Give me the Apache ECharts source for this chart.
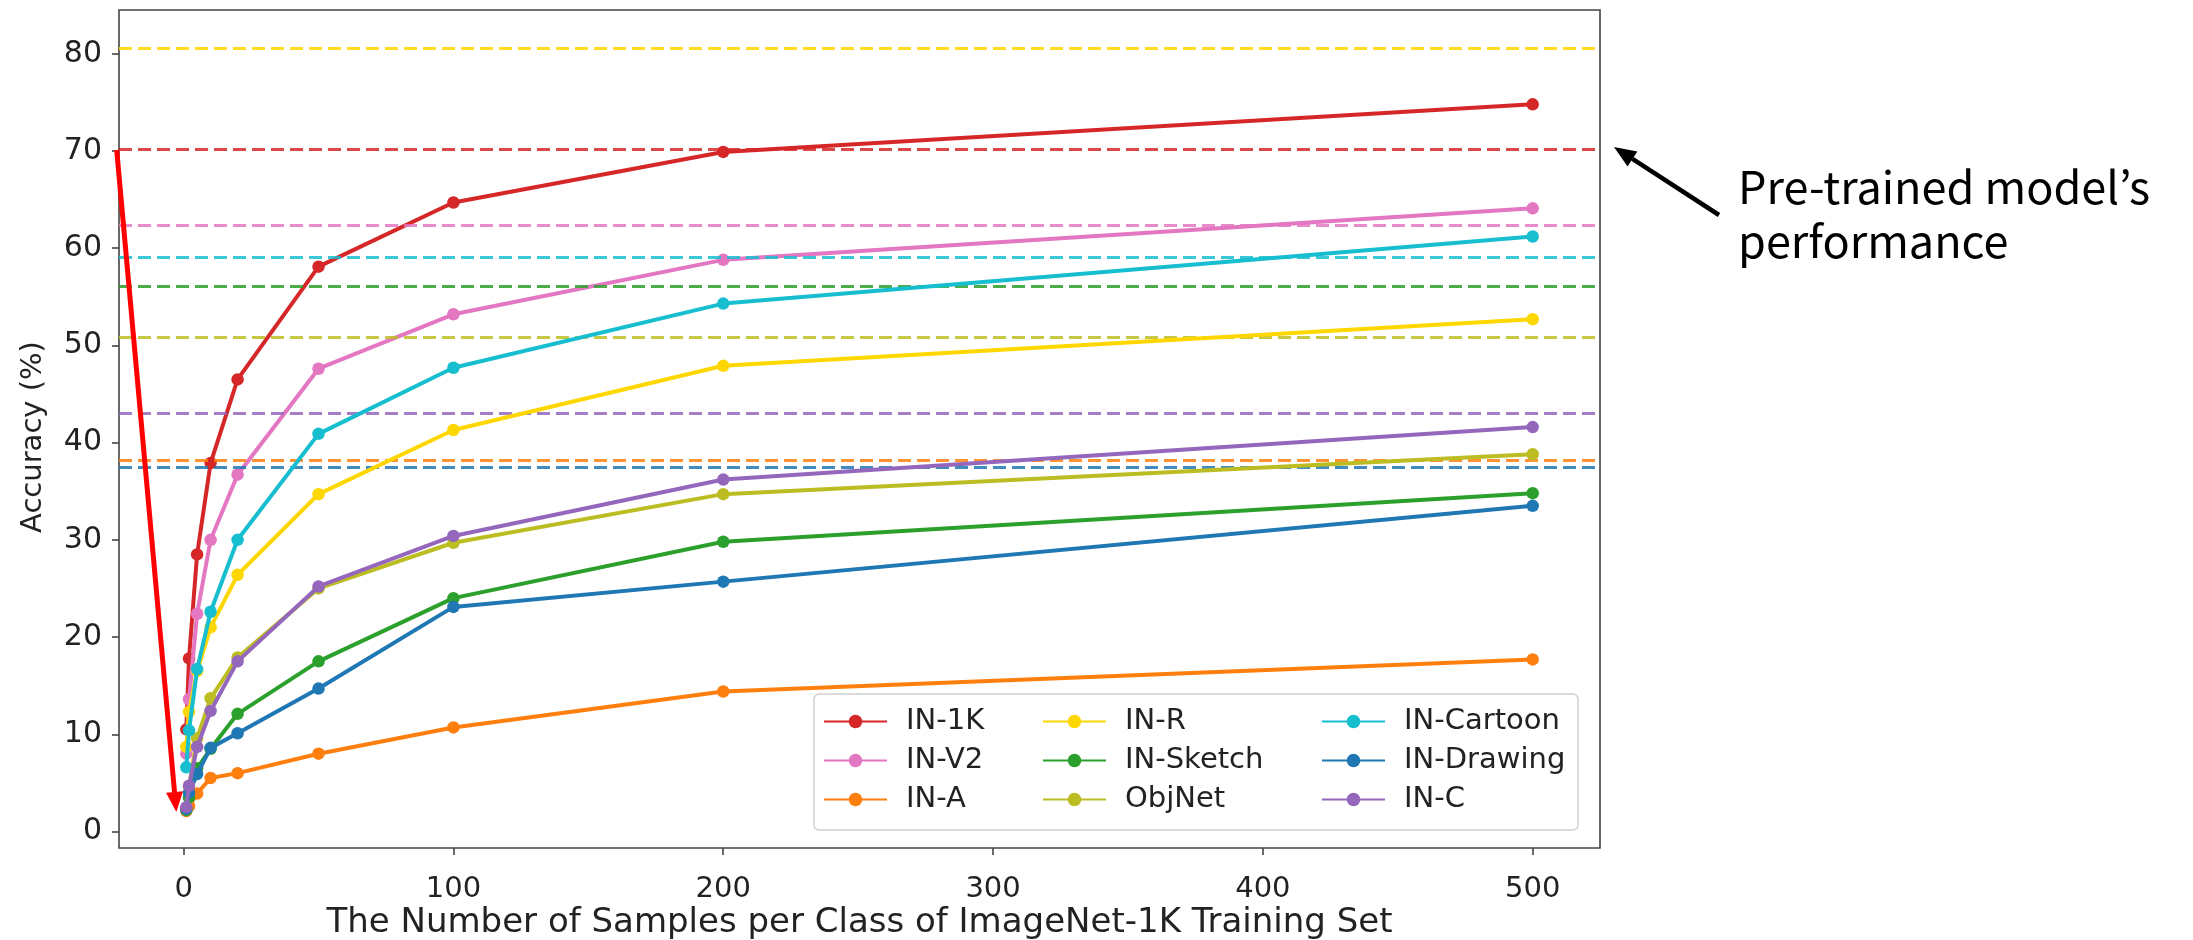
<!DOCTYPE html>
<html>
<head>
<meta charset="utf-8">
<script src="https://cdn.jsdelivr.net/npm/echarts@6/dist/echarts.min.js"></script>
<style>
  html, body { margin: 0; padding: 0; background: #ffffff; }
  #chart { width: 2193px; height: 940px; }
</style>
</head>
<body>
<div id="chart"></div>
<script>
// Samples per class used for fine-tuning
const samples = [1, 2, 5, 10, 20, 50, 100, 200, 500];

// Accuracy (%) per benchmark after fine-tuning
const in1k      = [10.5, 17.8, 28.5, 37.9, 46.5, 58.1, 64.7, 69.9, 74.8];
const inV2      = [8.0, 13.6, 22.4, 30.0, 36.7, 47.6, 53.2, 58.8, 64.1];
const inA       = [2.1, 2.6, 3.9, 5.5, 6.0, 8.0, 10.7, 14.4, 17.7];
const inR       = [8.7, 12.3, 16.5, 21.0, 26.4, 34.7, 41.3, 47.9, 52.7];
const inSketch  = [2.2, 3.5, 6.5, 8.5, 12.1, 17.5, 24.0, 29.8, 34.8];
const objNet    = [2.3, 4.6, 9.6, 13.7, 17.9, 25.0, 29.7, 34.7, 38.8];
const inCartoon = [6.6, 10.4, 16.7, 22.6, 30.0, 40.9, 47.7, 54.3, 61.2];
const inDrawing = [2.3, 4.0, 5.9, 8.6, 10.1, 14.7, 23.1, 25.7, 33.5];
const inC       = [2.5, 4.7, 8.7, 12.4, 17.5, 25.2, 30.4, 36.2, 41.6];

// Accuracy (%) of the pre-trained model on each benchmark
const pretrained = {
  'IN-1K': 70.2, 'IN-V2': 62.4, 'IN-A': 38.2, 'IN-R': 80.6, 'IN-Sketch': 56.1,
  'ObjNet': 50.8, 'IN-Cartoon': 59.1, 'IN-Drawing': 37.5, 'IN-C': 43.0
};

const xTicks = [0, 100, 200, 300, 400, 500];
const yTicks = [0, 10, 20, 30, 40, 50, 60, 70, 80];

const seriesDefs = [
  { name: 'IN-1K',      data: in1k,      color: '#d62728' },
  { name: 'IN-V2',      data: inV2,      color: '#e377c2' },
  { name: 'IN-A',       data: inA,       color: '#ff7f0e' },
  { name: 'IN-R',       data: inR,       color: '#ffd700' },
  { name: 'IN-Sketch',  data: inSketch,  color: '#2ca02c' },
  { name: 'ObjNet',     data: objNet,    color: '#bcbd22' },
  { name: 'IN-Cartoon', data: inCartoon, color: '#17becf' },
  { name: 'IN-Drawing', data: inDrawing, color: '#1f77b4' },
  { name: 'IN-C',       data: inC,       color: '#9467bd' }
];

const FONT = 'DejaVu Sans';
const chart = echarts.init(document.getElementById('chart'), null, { renderer: 'canvas' });

// dashed reference lines go underneath every curve
const refSeries = seriesDefs.map(s => ({
  name: s.name + '-ref',
  type: 'line',
  data: [],
  silent: true,
  z: 1,
  markLine: {
    silent: true,
    symbol: 'none',
    label: { show: false },
    emphasis: { disabled: true },
    lineStyle: { color: s.color, width: 3, type: [13, 6], opacity: 0.85 },
    data: [{ yAxis: pretrained[s.name] }]
  }
}));

const curveSeries = seriesDefs.map((s, i) => ({
  name: s.name,
  type: 'line',
  z: 3 + i,
  data: samples.map((x, k) => [x, s.data[k]]),
  symbol: 'circle',
  symbolSize: 12.5,
  showSymbol: true,
  lineStyle: { color: s.color, width: 4 },
  itemStyle: { color: s.color },
  emphasis: { disabled: true }
}));

const legendCommon = {
  orient: 'vertical',
  itemWidth: 63,
  itemHeight: 17,
  itemGap: 10,
  z: 30,
  textStyle: { fontFamily: FONT, fontSize: 29, color: '#222', padding: [0, 0, 0, 14] },
  selectedMode: false
};

const columns = [
  ['IN-1K', 'IN-V2', 'IN-A'],
  ['IN-R', 'IN-Sketch', 'ObjNet'],
  ['IN-Cartoon', 'IN-Drawing', 'IN-C']
];
const colLeft = [818, 1037, 1316];

chart.setOption({
  animation: false,
  backgroundColor: '#ffffff',
  grid: {
    left: 119, top: 10, width: 1481, height: 838,
    containLabel: false, outerBoundsMode: 'none',
    show: true, borderColor: '#444', borderWidth: 1.6, backgroundColor: 'transparent'
  },
  xAxis: {
    type: 'value', min: -23.95, max: 524.95,
    axisLine: { show: false, onZero: false },
    splitLine: { show: false },
    axisTick: { show: true, customValues: xTicks, length: 7, lineStyle: { color: '#444', width: 1.6 } },
    axisLabel: {
      customValues: xTicks, fontFamily: FONT, fontSize: 29, color: '#222',
      margin: 21, padding: [6, 0, 0, 0]
    },
    name: 'The Number of Samples per Class of ImageNet-1K Training Set',
    nameLocation: 'middle', nameGap: 58, nameMoveOverlap: false,
    nameTextStyle: { fontFamily: FONT, fontSize: 34, color: '#222' }
  },
  yAxis: {
    type: 'value', min: -1.7, max: 84.5,
    axisLine: { show: false, onZero: false },
    splitLine: { show: false },
    axisTick: { show: true, customValues: yTicks, length: 7, lineStyle: { color: '#444', width: 1.6 } },
    axisLabel: { customValues: yTicks, fontFamily: FONT, fontSize: 30, color: '#222', margin: 17 }
  },
  legend: columns.map((col, i) => Object.assign({}, legendCommon, {
    left: colLeft[i], top: 702, data: col
  })),
  series: refSeries.concat(curveSeries)
});

// legend frame, axis title, red drop arrow and the right-hand note
function drawOverlay() {
  const p0 = chart.convertToPixel({ gridIndex: 0 }, [-24.8, 70.1]);
  const p1 = chart.convertToPixel({ gridIndex: 0 }, [-2.7, 2.0]);
  const dx = p1[0] - p0[0], dy = p1[1] - p0[1];
  const len = Math.sqrt(dx * dx + dy * dy);
  const ux = dx / len, uy = dy / len;
  const headLen = 20, headHalf = 8.5;
  const base = [p1[0] - ux * headLen, p1[1] - uy * headLen];
  const nx = -uy, ny = ux;

  // black pointer toward the right edge of the IN-1K reference line
  const t0 = [1719, 215], t1 = [1614, 147];
  const bx = t1[0] - t0[0], by = t1[1] - t0[1];
  const bl = Math.sqrt(bx * bx + by * by);
  const vx = bx / bl, vy = by / bl;
  const bHead = 22, bHalf = 9;
  const bBase = [t1[0] - vx * bHead, t1[1] - vy * bHead];

  chart.setOption({
    graphic: [
      {
        type: 'rect', z: 20,
        shape: { x: 814, y: 694, width: 764, height: 136, r: 5 },
        style: { fill: 'rgba(255,255,255,0.8)', stroke: '#d0d0d0', lineWidth: 1.5 }
      },
      {
        type: 'text', z: 20, x: 33, y: 437, rotation: Math.PI / 2,
        style: {
          text: 'Accuracy (%)', fontFamily: FONT, fontSize: 29, fill: '#222',
          align: 'center', verticalAlign: 'middle'
        }
      },
      {
        type: 'polyline', z: 120,
        shape: { points: [p0, base] },
        style: { stroke: '#ff0000', lineWidth: 5, fill: null }
      },
      {
        type: 'polygon', z: 120,
        shape: { points: [
          p1,
          [base[0] + nx * headHalf, base[1] + ny * headHalf],
          [base[0] - nx * headHalf, base[1] - ny * headHalf]
        ] },
        style: { fill: '#ff0000' }
      },
      {
        type: 'polyline', z: 120,
        shape: { points: [t0, bBase] },
        style: { stroke: '#000', lineWidth: 4.5, fill: null }
      },
      {
        type: 'polygon', z: 120,
        shape: { points: [
          t1,
          [bBase[0] - vy * bHalf, bBase[1] + vx * bHalf],
          [bBase[0] + vy * bHalf, bBase[1] - vx * bHalf]
        ] },
        style: { fill: '#000' }
      },
      {
        type: 'text', z: 120, left: 1738, top: 160,
        style: {
          text: 'Pre-trained model\u2019s\nperformance',
          fontFamily: 'Noto Sans CJK KR', fontSize: 45, lineHeight: 54, fill: '#000'
        }
      }
    ]
  });
}
drawOverlay();
</script>
</body>
</html>
